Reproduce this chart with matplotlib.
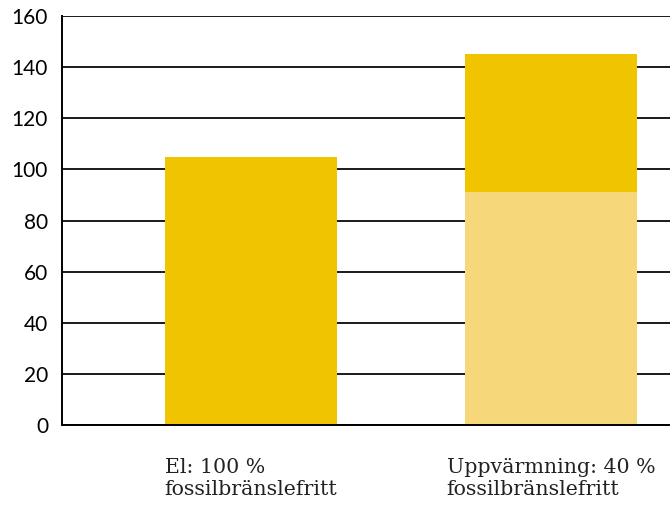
import matplotlib.pyplot as plt

categories = ["El: 100 %\nfossilbränslefritt", "Uppvärmning: 40 %\nfossilbränslefritt"]
base_values = [105, 91]
top_values = [0, 54]
base_colors = ["#F0C400", "#F6D87A"]
top_color = "#F0C400"
yticks = [0, 20, 40, 60, 80, 100, 120, 140, 160]

fig = plt.figure(figsize=(6.7, 5.05), dpi=100)
ax = fig.add_axes([0.0925, 0.1584, 0.9075, 0.8099])

x = range(len(categories))
ax.bar(x, base_values, width=0.573, color=base_colors, zorder=2)
ax.bar(x, top_values, width=0.573, bottom=base_values, color=top_color, zorder=2)

ax.set_ylim(0, 160)
ax.set_xlim(-0.63, 1.397)
ax.set_yticks(yticks)
ax.set_yticklabels([str(t) for t in yticks], fontsize=15, family="Lato")
ax.yaxis.grid(True, color="#1a1a1a", linewidth=1.4, zorder=1)
ax.set_axisbelow(True)
ax.tick_params(axis="both", length=0)
ax.tick_params(axis="y", pad=10)

ax.set_xticks(list(x))
ax.set_xticklabels(categories, fontsize=14.8, family="DejaVu Serif",
                   multialignment="left", linespacing=1.15,
                   fontweight="light", color="#222222")
ax.tick_params(axis="x", pad=24)

for side in ["top", "right"]:
    ax.spines[side].set_visible(False)
ax.spines["left"].set_linewidth(1.4)
ax.spines["bottom"].set_linewidth(1.4)

fig.savefig("out.png", dpi=100)
